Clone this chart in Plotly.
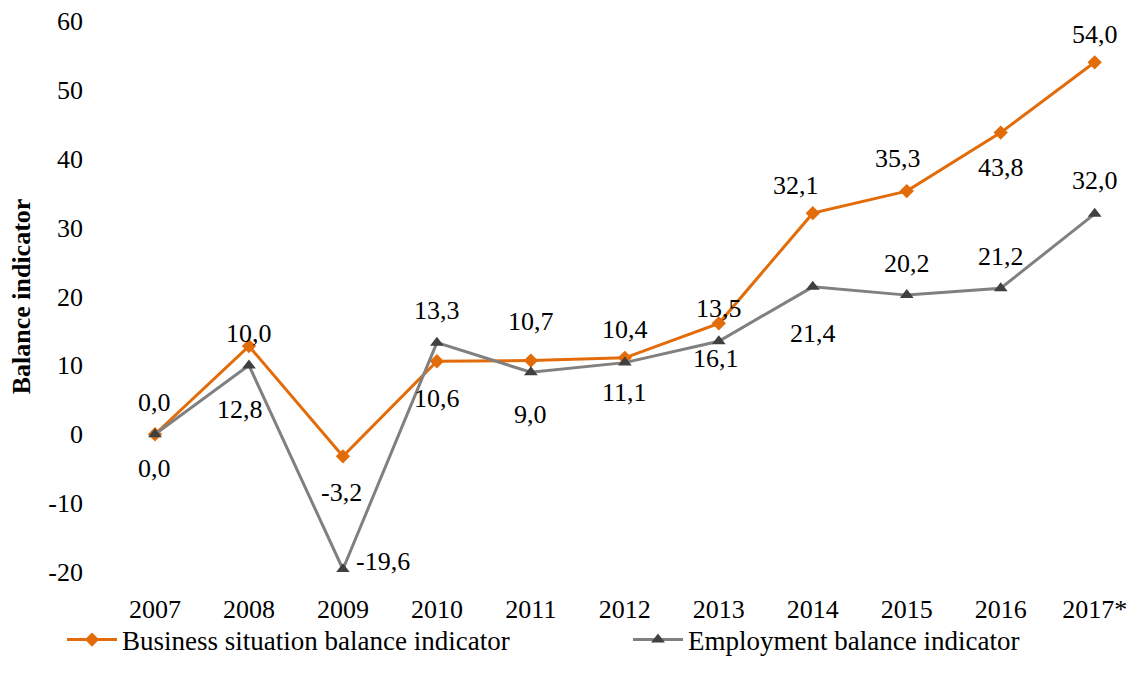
import plotly.graph_objects as go

years = ["2007", "2008", "2009", "2010", "2011", "2012", "2013", "2014", "2015", "2016", "2017*"]
business = [0.0, 12.8, -3.2, 10.6, 10.7, 11.1, 16.1, 32.1, 35.3, 43.8, 54.0]
employment = [0.0, 10.0, -19.6, 13.3, 9.0, 10.4, 13.5, 21.4, 20.2, 21.2, 32.0]
y_ticks = [-20, -10, 0, 10, 20, 30, 40, 50, 60]

ORANGE = "#E36C0A"
GREY = "#808080"
DARK = "#404040"
FONT = "Liberation Serif, Times New Roman, serif"
FS = 26

# label placement: (anchor series, dx px, dy px downward)
business_lbl_pos = [("B", 0, 34), ("E", -9, 44), ("B", -1, 36), ("B", 0, 37), ("B", 0, -39),
                    ("E", 0, 30), ("E", -3, 17), ("B", -17, -28), ("B", -9, -33), ("B", 0, 35),
                    ("B", 0, -28)]
employment_lbl_pos = [("E", 0, -32), ("B", 0, -13), ("E", 40, -8), ("E", 0, -32), ("E", 0, 42),
                      ("E", 0, -33), ("E", 0, -33), ("E", 0, 47), ("E", 0, -32), ("E", 0, -32),
                      ("E", 0, -33)]

fig = go.Figure()
fig.add_trace(go.Scatter(
    x=years, y=business, mode="lines+markers", name="Business situation balance indicator",
    line=dict(color=ORANGE, width=3), marker=dict(symbol="diamond", size=11, color=ORANGE),
    legend="legend",
))
fig.add_trace(go.Scatter(
    x=years, y=employment, mode="lines+markers", name="Employment balance indicator",
    line=dict(color=GREY, width=3), marker=dict(symbol="triangle-up", size=12, color=DARK),
    legend="legend2",
))

series = {"B": business, "E": employment}
annotations = []
for vals, pos in ((business, business_lbl_pos), (employment, employment_lbl_pos)):
    for i, v in enumerate(vals):
        anc, dx, dy = pos[i]
        annotations.append(dict(
            x=i, y=series[anc][i], xref="x", yref="y",
            text=f"{v:.1f}".replace(".", ","),
            showarrow=False, xshift=dx, yshift=-dy,
            font=dict(family=FONT, size=FS, color="#000000"),
            xanchor="center", yanchor="middle",
        ))

L, R, T, B = 108, 10, 21, 114
PW = 1131 - L - R
PH = 686 - T - B


def px_x(px):
    return (px - L) / PW


def px_y(py):
    return (686 - B - py) / PH


leg_common = dict(
    orientation="h", yanchor="middle", xanchor="left",
    font=dict(family=FONT, size=27, color="#000000"),
    bgcolor="rgba(0,0,0,0)", itemwidth=50,
)

fig.update_layout(
    width=1131, height=686,
    margin=dict(l=L, r=R, t=T, b=B, autoexpand=False),
    paper_bgcolor="white", plot_bgcolor="white",
    font=dict(family=FONT, size=FS, color="#000000"),
    annotations=annotations,
    showlegend=True,
    legend=dict(x=px_x(62), y=px_y(640), **leg_common),
    legend2=dict(x=px_x(628), y=px_y(640), **leg_common),
)
fig.update_xaxes(
    type="category", range=[-0.5, 10.28], showgrid=False, zeroline=False, showline=False,
    ticks="", ticklabelstandoff=19, tickfont=dict(family=FONT, size=FS), automargin=False,
)
fig.update_yaxes(
    range=[-20, 60], tickvals=y_ticks, ticktext=[str(v) for v in y_ticks],
    showgrid=False, zeroline=False, showline=False,
    ticks="", ticklabelstandoff=24, tickfont=dict(family=FONT, size=FS), automargin=False,
    title=dict(text="<b>Balance indicator</b>", font=dict(family=FONT, size=26), standoff=10),
)

fig.write_html("out.html", config={"displayModeBar": False},
               post_script="document.body.style.margin='0';")
